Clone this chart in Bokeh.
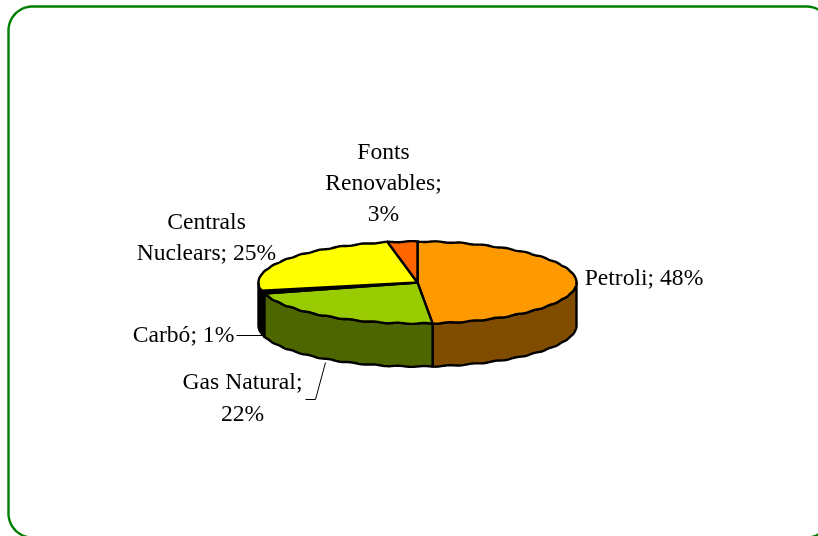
import numpy as np
from bokeh.plotting import figure
from bokeh.models import Range1d
from bokeh.core.properties import value
from bokeh.embed import file_html
from bokeh.resources import INLINE

names = ["Petroli", "Gas Natural", "Carbó", "Centrals Nuclears", "Fonts Renovables"]
shares = [48, 22, 1, 25, 3]
top_colors = ["#FF9900", "#99CC00", "#000000", "#FFFF00", "#FF6600"]
side_colors = ["#804D00", "#4D6600", "#000000", "#000000", "#803300"]

W, H = 818, 536
CX, CY, RX, RY, DEPTH = 417, 282, 159, 41, 43
FONT = "Liberation Serif"
FS = "23.6px"

p = figure(width=W, height=H, x_range=Range1d(0, W), y_range=Range1d(H, 0),
           output_backend="svg", toolbar_location=None, min_border=0,
           outline_line_color=None, background_fill_color="white", border_fill_color="white")
p.axis.visible = False
p.grid.visible = False
p.styles = {"position": "fixed", "left": "0px", "top": "0px"}

# rounded frame
def corner(cx, cy, a0, a1, r=24):
    t = np.radians(np.linspace(a0, a1, 24))
    return cx + r * np.cos(t), cy + r * np.sin(t)
parts = [corner(32, 513, 90, 180), corner(32, 30, 180, 270), corner(806, 30, 270, 360), corner(806, 513, 0, 90)]
fx = np.concatenate([q[0] for q in parts]); fy = np.concatenate([q[1] for q in parts])
p.line(np.append(fx, fx[0]), np.append(fy, fy[0]), line_color="#008000", line_width=2.4)

def ell(t_deg, dy=0.0):
    t = np.radians(t_deg)
    ripple = 0.45 * np.sin(t * 40) * np.abs(np.cos(t)) ** 0.5
    return CX + RX * np.sin(t), CY - RY * np.cos(t) + dy + ripple

edges = np.concatenate([[0], np.cumsum(shares)]) / sum(shares) * 360.0

# side walls (front half only)
for i in range(len(shares)):
    a, b = max(edges[i], 90), min(edges[i + 1], 270)
    if b <= a:
        continue
    t = np.linspace(a, b, 160)
    x0, y0 = ell(t)
    x1, y1 = ell(t[::-1], DEPTH)
    p.patch(np.concatenate([x0, x1]), np.concatenate([y0, y1]), fill_color=side_colors[i],
            line_color="black", line_width=2.4, line_join="round")

# top faces
for i in range(len(shares)):
    t = np.linspace(edges[i], edges[i + 1], 240)
    x0, y0 = ell(t)
    p.patch(np.concatenate([[CX], x0]), np.concatenate([[CY], y0]), fill_color=top_colors[i],
            line_color="black", line_width=2.4, line_join="round")

# leader lines
p.line([236, 262], [335, 335], line_color="black", line_width=1)
p.line([325, 315, 305], [362, 399, 399], line_color="black", line_width=1)

labels = [
    ("Fonts", 383, 150), ("Renovables;", 383, 181), ("3%", 383, 212),
    ("Centrals", 206, 220), ("Nuclears; 25%", 206, 251),
    ("Petroli; 48%", 643.5, 276),
    ("Carbó; 1%", 183, 333),
    ("Gas Natural;", 242, 380), ("22%", 242, 412),
]
p.text([l[1] for l in labels], [l[2] for l in labels], text=[l[0] for l in labels],
       text_font=value(FONT), text_font_size=FS, text_color="black",
       text_align="center", text_baseline="middle")

open("out.html", "w").write(file_html(p, INLINE))
